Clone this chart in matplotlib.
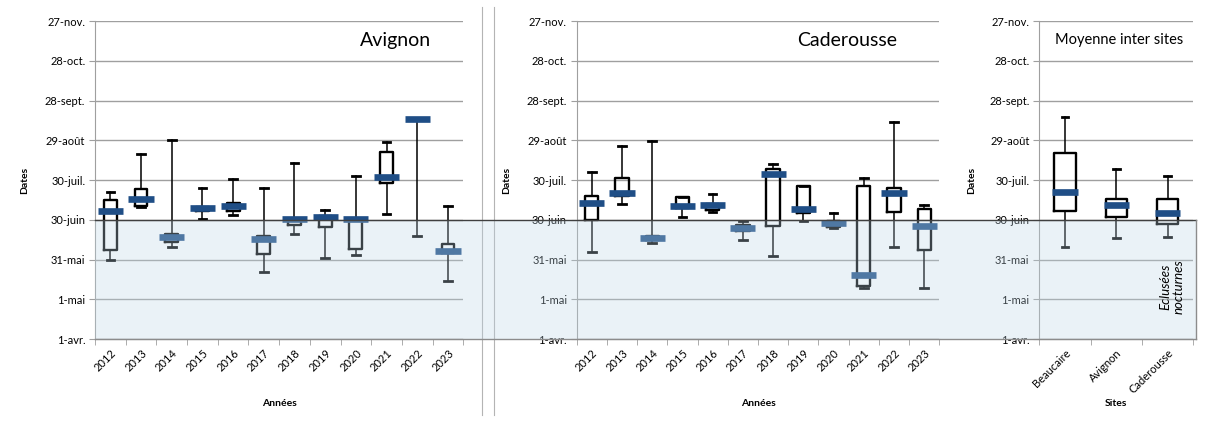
import numpy as np
import matplotlib.pyplot as plt
from matplotlib.patches import Rectangle
from matplotlib.lines import Line2D

plt.rcParams['font.family'] = ['Lato', 'DejaVu Sans']

# values are days counted from 1 April
date_ticks = [0, 30, 60, 90, 120, 150, 180, 210, 240]
date_labels = ['1-avr.', '1-mai', '31-mai', '30-juin', '30-juil.', '29-août',
               '28-sept.', '28-oct.', '27-nov.']
night_limit = 90  # 30-juin

years = ['2012', '2013', '2014', '2015', '2016', '2017', '2018', '2019',
         '2020', '2021', '2022', '2023']

avi_hi = [110.7, 139.9, 149.9, 113.7, 120.5, 113.7, 132.8, 97.4, 123.0, 148.4, 166.8, 100.6]
avi_q3 = [104.7, 113.0, 79.0, 99.9, 102.9, 77.5, 90.8, 92.8, 90.6, 141.4, 166.3, 71.7]
avi_med = [96.6, 105.7, 77.2, 98.6, 100.1, 75.7, 90.6, 91.8, 90.6, 122.5, 165.8, 66.4]
avi_q1 = [67.2, 100.1, 73.0, 96.9, 96.9, 64.4, 86.0, 84.5, 67.7, 117.7, 165.3, 64.7]
avi_lo = [59.9, 99.5, 69.7, 90.6, 93.6, 50.8, 79.2, 61.4, 63.6, 94.6, 77.7, 43.8]

cad_hi = [126.3, 146.0, 149.5, 106.9, 109.7, 89.0, 132.3, 115.5, 94.8, 121.8, 164.1, 100.8]
cad_q3 = [107.9, 121.8, 77.4, 106.9, 102.1, 86.2, 128.6, 115.5, 89.0, 115.7, 113.9, 97.8]
cad_med = [102.9, 110.4, 76.6, 100.3, 101.3, 83.4, 124.5, 98.3, 87.5, 48.1, 110.4, 85.0]
cad_q1 = [89.5, 107.9, 74.4, 98.8, 97.6, 81.7, 85.2, 95.0, 84.2, 40.3, 95.5, 67.3]
cad_lo = [65.3, 101.6, 72.3, 92.3, 95.5, 74.9, 62.3, 88.7, 83.7, 38.6, 69.3, 38.6]

sites = ['Beaucaire', 'Avignon', 'Caderousse']
site_hi = [167.5, 128.3, 123.3]
site_q3 = [140.6, 105.4, 105.4]
site_med = [111.2, 101.1, 95.1]
site_q1 = [96.9, 92.1, 87.0]
site_lo = [69.2, 76.0, 76.7]

W, H = 1210, 423
fig = plt.figure(figsize=(W / 100, H / 100), dpi=100)

def px_axes(x0, x1, y_top=21, y_bot=339):
    return fig.add_axes([x0 / W, 1 - y_bot / H, (x1 - x0) / W, (y_bot - y_top) / H])

ax1 = px_axes(95, 463.3)
ax2 = px_axes(576.7, 939.3)
ax3 = px_axes(1039.3, 1193.3)

grid_c = '#9f9f9f'
med_c = '#1f4e86'


def draw_panel(ax, cats, lo, q1, med, q3, hi, box_w, med_w, cap_w, xlabel):
    n = len(cats)
    pos = np.arange(1, n + 1)
    stats = [dict(whislo=a, q1=b, med=c, q3=d, whishi=e, fliers=[])
             for a, b, c, d, e in zip(lo, q1, med, q3, hi)]
    ax.bxp(stats, positions=pos, widths=box_w, capwidths=cap_w,
           showfliers=False, manage_ticks=False,
           boxprops=dict(color='black', linewidth=1.7),
           whiskerprops=dict(color='black', linewidth=1.1),
           capprops=dict(color='black', linewidth=2.0),
           medianprops=dict(linewidth=0),
           zorder=3)
    ax.hlines(med, pos - med_w / 2, pos + med_w / 2, colors=med_c,
              linewidth=4.8, zorder=4)

    ax.set_xlim(0.5, n + 0.5)
    ax.set_ylim(0, 240)
    ax.set_yticks(date_ticks)
    ax.set_yticklabels(date_labels, fontsize=8)
    ax.set_xticks(pos)
    ax.set_xticklabels(cats, rotation=45, ha='right', rotation_mode='anchor',
                       fontsize=8)
    ax.set_xticks(np.arange(0.5, n + 1), minor=True)
    ax.tick_params(axis='x', which='major', length=0, pad=6)
    ax.tick_params(axis='x', which='minor', length=4, color=grid_c)
    ax.tick_params(axis='y', length=4, color=grid_c, pad=3)
    ax.yaxis.grid(True, color=grid_c, linewidth=1.0)
    ax.set_axisbelow(True)
    for side in ('top', 'right'):
        ax.spines[side].set_visible(False)
    for side in ('left', 'bottom'):
        ax.spines[side].set_color(grid_c)
    ax.set_ylabel('Dates', fontsize=7.5, fontweight='bold')
    ax.set_xlabel(xlabel, fontsize=7.5, fontweight='bold')


draw_panel(ax1, years, avi_lo, avi_q1, avi_med, avi_q3, avi_hi, 0.42, 0.82, 0.25, 'Années')
draw_panel(ax2, years, cad_lo, cad_q1, cad_med, cad_q3, cad_hi, 0.44, 0.83, 0.25, 'Années')
draw_panel(ax3, sites, site_lo, site_q1, site_med, site_q3, site_hi, 0.42, 0.49, 0.13, 'Sites')
for ax in (ax1, ax2, ax3):
    ax.xaxis.set_label_coords(0.5, -0.19)
ax1.yaxis.set_label_coords(-0.18, 0.5)
ax2.yaxis.set_label_coords(-0.18, 0.5)
ax3.yaxis.set_label_coords(-0.41, 0.5)

ax1.text(0.815, 0.94, 'Avignon', transform=ax1.transAxes, ha='center', va='center', fontsize=14)
ax2.text(0.745, 0.94, 'Caderousse', transform=ax2.transAxes, ha='center', va='center', fontsize=14)
ax3.text(0.52, 0.94, 'Moyenne inter sites', transform=ax3.transAxes, ha='center', va='center', fontsize=10.5)

# night-time hydropeaking period, laid over all three panels
y0 = 1 - 339 / H
y1 = y0 + (339 - 21) / H * night_limit / 240
x0, x1 = 95 / W, 1196 / W
fig.patches.append(Rectangle((x0, y0), x1 - x0, y1 - y0, transform=fig.transFigure,
                             facecolor=(0.74, 0.84, 0.90), alpha=0.31,
                             edgecolor='none', zorder=5))
fig.lines.append(Line2D([x0, x1], [y1, y1], transform=fig.transFigure,
                        color='#404040', linewidth=1.0, zorder=6))
fig.lines.append(Line2D([x0, x1], [y0, y0], transform=fig.transFigure,
                        color='#8c8c8c', linewidth=1.0, zorder=6))
fig.lines.append(Line2D([x1, x1], [y0, y1], transform=fig.transFigure,
                        color='#8c8c8c', linewidth=1.0, zorder=6))
fig.text(1172 / W, 1 - 287 / H, 'Eclusées\nnocturnes', rotation=90, style='italic',
         ha='center', va='center', fontsize=9.5, linespacing=1.1, zorder=7)

# separators between the first and second panel
for xs in (482.3, 493.7):
    fig.lines.append(Line2D([xs / W, xs / W], [1 - 7 / H, 1 - 415 / H],
                            transform=fig.transFigure, color='#b4b4b4', linewidth=0.8))

fig.savefig('out.png', dpi=100)
